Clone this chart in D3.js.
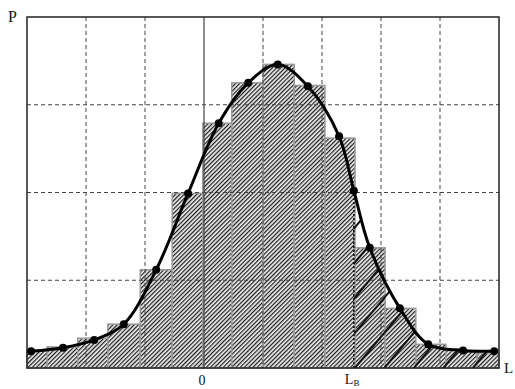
<!DOCTYPE html>
<html>
<head>
<meta charset="utf-8">
<script src="https://cdn.jsdelivr.net/npm/d3@7"></script>
<style>
  html, body { margin: 0; padding: 0; background: #fff; }
  svg { display: block; }
  text { font-family: "Liberation Serif", "DejaVu Serif", serif; fill: #111; }
</style>
</head>
<body>
<svg id="chart"></svg>
<script>
// histogram bins (x units, 1 unit = one grid cell) and their heights
const binEdges = [-3, -2.66, -2.14, -1.63, -1.08, -0.54, -0.02, 0.47, 1.0, 1.53, 2.05, 2.56, 3.07, 3.59, 4.10, 4.63, 5];
const binHeights = [0.2, 0.24, 0.34, 0.5, 1.12, 1.99, 2.79, 3.25, 3.46, 3.22, 2.62, 1.37, 0.68, 0.27, 0.2, 0.17];

// smoothed curve points
const curveX = [-2.93, -2.39, -1.86, -1.36, -0.81, -0.27, 0.25, 0.75, 1.25, 1.76, 2.29, 2.54, 2.81, 3.32, 3.80, 4.39, 4.92];
const curveY = [0.19, 0.23, 0.32, 0.5, 1.12, 1.99, 2.79, 3.25, 3.46, 3.21, 2.64, 2.02, 1.37, 0.68, 0.27, 0.2, 0.19];

const gridX = [-2, -1, 1, 2, 3, 4];
const gridY = [1, 2, 3];
const LB = 2.54;

const width = 515, height = 389;
const margin = { top: 17, right: 16, bottom: 21, left: 27 };

const svg = d3.select('#chart').attr('width', width).attr('height', height);

const x = d3.scaleLinear().domain([-3, 5]).range([margin.left, width - margin.right]);
const y = d3.scaleLinear().domain([0, 4]).range([height - margin.bottom, margin.top]);

const defs = svg.append('defs');

// fine hatch for the bars
const pat = defs.append('pattern')
  .attr('id', 'hatch')
  .attr('patternUnits', 'userSpaceOnUse')
  .attr('width', 3).attr('height', 3)
  .attr('patternTransform', 'rotate(45)');
pat.append('rect').attr('width', 3).attr('height', 3).attr('fill', '#eee');
pat.append('line')
  .attr('x1', 0.6).attr('y1', 0).attr('x2', 0.6).attr('y2', 3)
  .attr('stroke', '#1a1a1a').attr('stroke-width', 1.2);

const bins = binHeights.map((h, i) => ({ x0: binEdges[i], x1: binEdges[i + 1], h }));
const points = curveX.map((v, i) => ({ x: v, y: curveY[i] }));

// bars
svg.append('g').selectAll('rect')
  .data(bins)
  .enter().append('rect')
  .attr('x', d => x(d.x0))
  .attr('y', d => y(d.h))
  .attr('width', d => x(d.x1) - x(d.x0))
  .attr('height', d => y(0) - y(d.h))
  .attr('fill', 'url(#hatch)')
  .attr('stroke', '#999')
  .attr('stroke-width', 1.5);

// tail region right of L_B, wide hatch clipped under the curve
const area = d3.area()
  .x(d => x(d.x)).y0(y(0)).y1(d => y(d.y))
  .curve(d3.curveCatmullRom);
const tailPts = [...points, { x: 5, y: curveY[curveY.length - 1] }];
defs.append('clipPath').attr('id', 'underCurve')
  .append('path').attr('d', area(tailPts));
defs.append('clipPath').attr('id', 'tailRect')
  .append('rect')
  .attr('x', x(LB)).attr('y', y(4))
  .attr('width', x(5) - x(LB)).attr('height', y(0) - y(4));

const tail = svg.append('g').attr('clip-path', 'url(#tailRect)')
  .append('g').attr('clip-path', 'url(#underCurve)');
const rise = y(0) - y(4);
const run = rise / Math.tan(50 * Math.PI / 180);
d3.range(-8, 6).forEach(k => {
  const x0 = x(LB) + 1 + k * 29.5;
  tail.append('line')
    .attr('x1', x0).attr('y1', y(0))
    .attr('x2', x0 + run).attr('y2', y(4))
    .attr('stroke', '#111').attr('stroke-width', 2);
});

// grid
const grid = svg.append('g').attr('stroke', '#444').attr('stroke-width', 1).attr('stroke-dasharray', '4,3');
grid.selectAll('.gx').data(gridX).enter().append('line')
  .attr('x1', d => x(d)).attr('x2', d => x(d))
  .attr('y1', y(4)).attr('y2', y(0));
grid.selectAll('.gy').data(gridY).enter().append('line')
  .attr('y1', d => y(d)).attr('y2', d => y(d))
  .attr('x1', x(-3)).attr('x2', x(5));

// zero axis
svg.append('line')
  .attr('x1', x(0)).attr('x2', x(0)).attr('y1', y(4)).attr('y2', y(0))
  .attr('stroke', '#444').attr('stroke-width', 1.2);

// L_B dotted line
const lbY = curveY[curveX.indexOf(LB)];
svg.append('line')
  .attr('x1', x(LB)).attr('x2', x(LB)).attr('y1', y(0)).attr('y2', y(lbY))
  .attr('stroke', '#111').attr('stroke-width', 1.6).attr('stroke-dasharray', '2,2');

// frame
svg.append('rect')
  .attr('x', x(-3)).attr('y', y(4))
  .attr('width', x(5) - x(-3)).attr('height', y(0) - y(4))
  .attr('fill', 'none').attr('stroke', '#222').attr('stroke-width', 1.5);

// curve
const line = d3.line().x(d => x(d.x)).y(d => y(d.y)).curve(d3.curveCatmullRom);
svg.append('path')
  .datum(points)
  .attr('d', line)
  .attr('fill', 'none')
  .attr('stroke', '#000')
  .attr('stroke-width', 3);

svg.append('g').selectAll('circle')
  .data(points)
  .enter().append('circle')
  .attr('cx', d => x(d.x))
  .attr('cy', d => y(d.y))
  .attr('r', 4)
  .attr('fill', '#000');

// labels
svg.append('text').attr('x', 8).attr('y', 22).style('font-size', '16px').text('P');
svg.append('text').attr('x', 504).attr('y', 373).style('font-size', '15px').text('L');
svg.append('text').attr('x', x(0) - 2).attr('y', 385).attr('text-anchor', 'middle')
  .style('font-size', '14px').text('0');
const lb = svg.append('text').attr('x', x(LB) - 9).attr('y', 384).style('font-size', '14px');
lb.append('tspan').text('L');
lb.append('tspan').attr('dy', 2).style('font-size', '9px').text('B');
</script>
</body>
</html>
